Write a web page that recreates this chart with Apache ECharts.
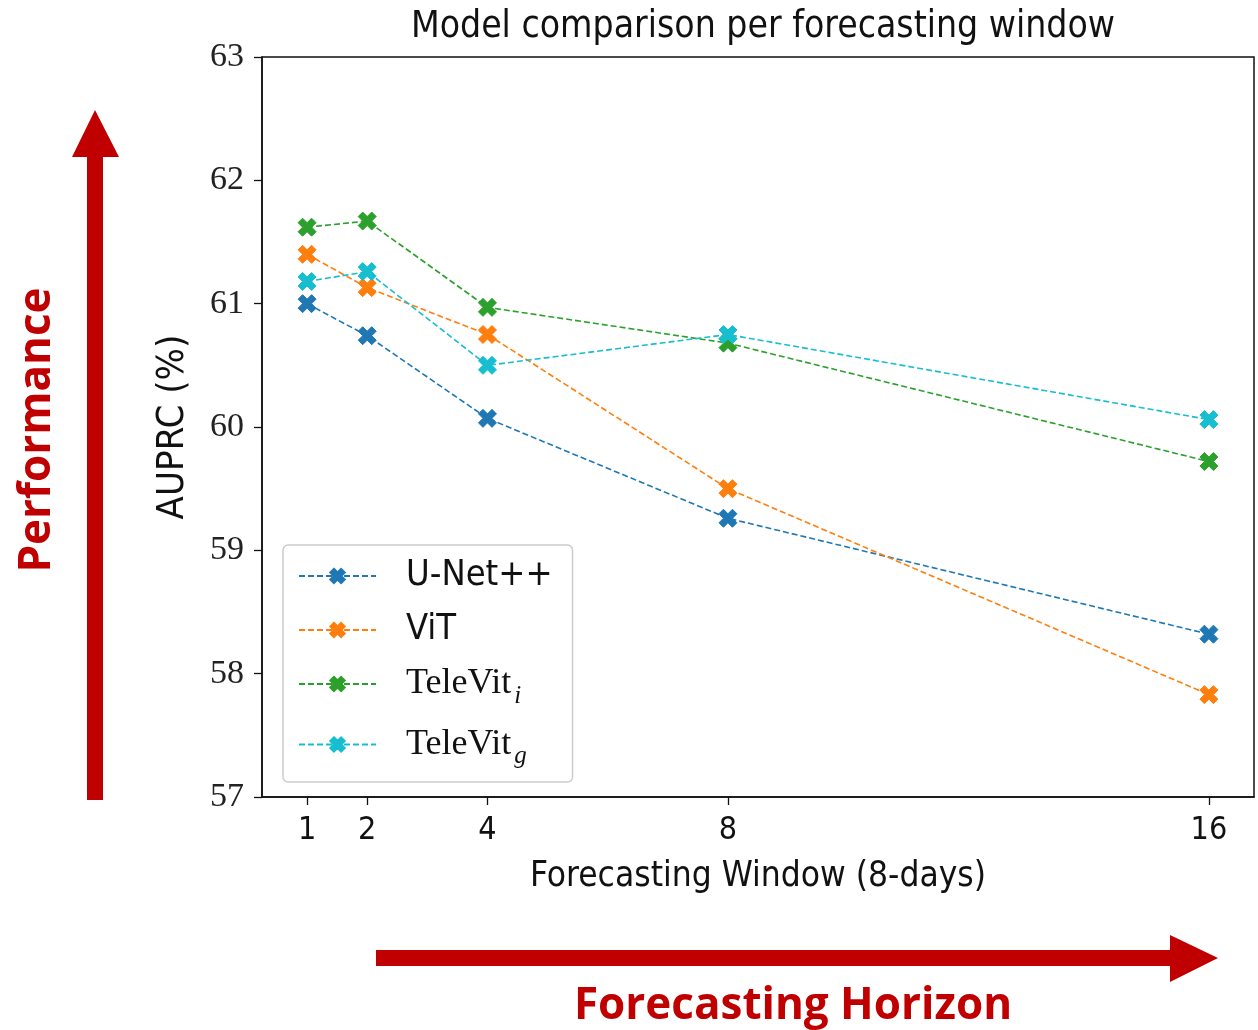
<!DOCTYPE html>
<html lang="en">
<head>
  <meta charset="UTF-8">
  <script src="https://cdn.jsdelivr.net/npm/echarts@6/dist/echarts.min.js"></script>
  <title>Model comparison</title>
  <style>
    * {margin: 0; padding: 0;}
    html, body {width: 100%; height: 100%; background: #fff; overflow: hidden;}
    #chart {width: 1258px; height: 1030px;}
  </style>
</head>
<body>
  <div id="chart"></div>
<script>
// forecasting windows (x) and AUPRC (%) per model
var windows = [1, 2, 4, 8, 16]
var seriesNames = ['U-Net++', 'ViT', 'TeleVit_i', 'TeleVit_g']
var unetpp = [61.00, 60.74, 60.07, 59.26, 58.32]
var vit = [61.40, 61.13, 60.75, 59.50, 57.83]
var televitI = [61.62, 61.67, 60.97, 60.68, 59.72]
var televitG = [61.18, 61.26, 60.50, 60.75, 60.06]
var yTicks = [57, 58, 59, 60, 61, 62, 63]

var colors = ['#1f77b4', '#ff7f0e', '#2ca02c', '#17becf']
var values = [unetpp, vit, televitI, televitG]
var red = '#c00000'
var sansCond = '"DejaVu Sans Condensed", "Liberation Sans Narrow", "Roboto Condensed", "DejaVu Sans", sans-serif'
var serif = '"Liberation Serif", "DejaVu Serif", serif'
var xMarker = 'path://M-1,-2 L0,-1 L1,-2 L2,-1 L1,0 L2,1 L1,2 L0,1 L-1,2 L-2,1 L-1,0 L-2,-1 Z'

var series = seriesNames.map(function (name, i) {
  return {
    name: name,
    type: 'line',
    data: windows.map(function (x, j) { return [x, values[i][j]] }),
    symbol: xMarker,
    symbolSize: 18,
    showAllSymbol: true,
    color: colors[i],
    lineStyle: {color: colors[i], width: 1.6, type: [6, 3]},
    itemStyle: {color: colors[i], borderColor: colors[i], borderWidth: 1, opacity: 1},
    z: 2 + i,
    animation: false
  }
})

var option = {
  backgroundColor: '#fff',
  title: {
    text: 'Model comparison per forecasting window',
    left: 758,
    top: 4,
    textAlign: 'center',
    textStyle: {fontFamily: sansCond, fontWeight: 'normal', fontSize: 37, color: '#111'}
  },
  grid: {
    left: 262, top: 57, width: 992, height: 740,
    show: true, borderColor: '#111', borderWidth: 1.5, backgroundColor: 'transparent'
  },
  legend: {
    left: 283, top: 545,
    orient: 'vertical',
    itemWidth: 77, itemHeight: 18,
    itemGap: 18,
    padding: [13, 20, 13, 15],
    borderColor: '#cccccc', borderWidth: 1.5, borderRadius: 5,
    backgroundColor: '#fff',
    data: seriesNames,
    formatter: function (name) {
      if (name === 'TeleVit_i') return '{s|TeleVit}{sub|i}'
      if (name === 'TeleVit_g') return '{s|TeleVit}{sub|g}'
      return '{c|' + name + '}'
    },
    textStyle: {
      padding: [0, 0, 0, 25],
      rich: {
        c: {fontFamily: sansCond, fontSize: 36, color: '#111', height: 37},
        s: {fontFamily: serif, fontSize: 36, color: '#111', height: 37},
        sub: {fontFamily: serif, fontStyle: 'italic', fontSize: 25, color: '#111', padding: [24, 0, 0, 3]}
      }
    }
  },
  xAxis: {
    type: 'value',
    min: 0.25, max: 16.75,
    name: 'Forecasting Window (8-days)',
    nameLocation: 'middle',
    nameGap: 62,
    nameTextStyle: {fontFamily: sansCond, fontSize: 35, color: '#111'},
    axisLine: {show: true, lineStyle: {color: '#111', width: 1.5}},
    axisTick: {show: true, length: 8, lineStyle: {color: '#111', width: 1.3}, customValues: windows},
    axisLabel: {customValues: windows, margin: 18, fontFamily: sansCond, fontSize: 32, color: '#111'},
    splitLine: {show: false}
  },
  yAxis: {
    type: 'value',
    min: 57, max: 63, interval: 1,
    name: 'AUPRC (%)',
    nameLocation: 'middle',
    nameGap: 70,
    nameTextStyle: {fontFamily: sansCond, fontSize: 38, color: '#111'},
    axisLine: {show: true, lineStyle: {color: '#111', width: 1.5}},
    axisTick: {show: true, length: 8, lineStyle: {color: '#111', width: 1.3}, customValues: yTicks},
    axisLabel: {customValues: yTicks, margin: 18, fontFamily: serif, fontSize: 34, color: '#222'},
    splitLine: {show: false}
  },
  graphic: [
    // vertical performance arrow
    {type: 'rect', shape: {x: 87, y: 150, width: 16, height: 650}, style: {fill: red}},
    {type: 'polygon', shape: {points: [[72, 157], [95, 110], [119, 157]]}, style: {fill: red}},
    {
      type: 'text', x: 37, y: 430, rotation: Math.PI / 2,
      style: {text: 'Performance', fill: red, font: 'bold 44px "Open Sans", sans-serif', align: 'center', verticalAlign: 'middle'}
    },
    // horizontal horizon arrow
    {type: 'rect', shape: {x: 376, y: 950, width: 800, height: 16}, style: {fill: red}},
    {type: 'polygon', shape: {points: [[1170, 935], [1218, 958], [1170, 982]]}, style: {fill: red}},
    {
      type: 'text', x: 793, y: 1006,
      style: {text: 'Forecasting Horizon', fill: red, font: 'bold 44px "Open Sans", sans-serif', align: 'center', verticalAlign: 'middle'}
    }
  ],
  series: series
}

var chart = echarts.init(document.getElementById('chart'), null, {renderer: 'canvas'})
chart.setOption(option)
</script>
</body>
</html>
